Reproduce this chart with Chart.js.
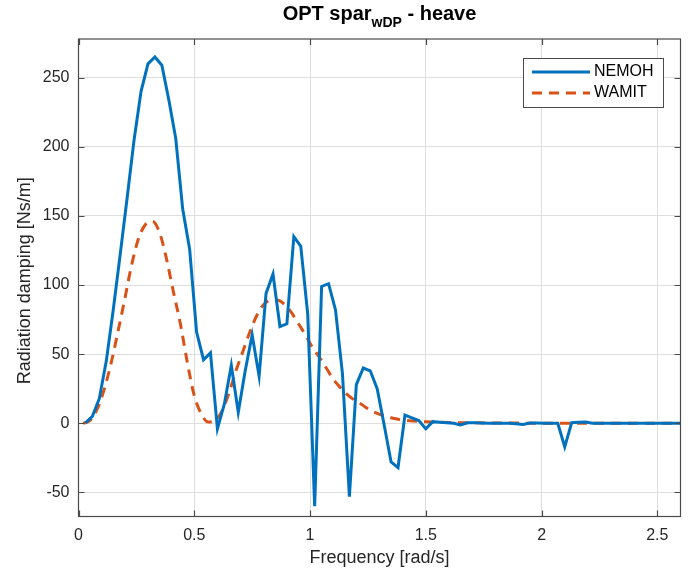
<!DOCTYPE html>
<html>
<head>
<meta charset="utf-8">
<script src="https://cdn.jsdelivr.net/npm/chart.js@4.4.1/dist/chart.umd.min.js"></script>
<style>
  html, body { margin: 0; padding: 0; background: #fff; }
  #wrap { width: 700px; height: 575px; }
</style>
</head>
<body>
<div id="wrap"><canvas id="chart"></canvas></div>
<script>
// NEMOH samples (rad/s)
const freqNemoh = [0.03, 0.06, 0.09, 0.12, 0.15, 0.18, 0.21, 0.24, 0.27, 0.30,
  0.33, 0.36, 0.39, 0.42, 0.45, 0.48, 0.51, 0.54, 0.57, 0.60,
  0.63, 0.66, 0.69, 0.72, 0.75, 0.78, 0.81, 0.84, 0.87, 0.90,
  0.93, 0.96, 0.99, 1.02, 1.05, 1.08, 1.11, 1.14, 1.17, 1.20,
  1.23, 1.26, 1.29, 1.32, 1.35, 1.38, 1.41, 1.44, 1.47, 1.50,
  1.53, 1.56, 1.59, 1.62, 1.65, 1.68, 1.71, 1.74, 1.77, 1.80,
  1.83, 1.86, 1.89, 1.92, 1.95, 1.98, 2.01, 2.04, 2.07, 2.10,
  2.13, 2.16, 2.19, 2.22, 2.25, 2.28, 2.31, 2.34, 2.37, 2.40,
  2.43, 2.46, 2.49, 2.52, 2.55, 2.58, 2.61];
const dampNemoh = [0.3, 5, 18, 45, 82, 122, 163, 205, 240, 260,
  265, 259, 234, 206, 155, 126, 66, 46, 51, -4,
  14, 42, 8, 38, 64, 34, 94, 108, 70, 72,
  135, 128, 79, -60, 99, 101, 82, 36, -53, 28,
  40, 38, 25, -1, -28, -32, 6, 4, 2, -4,
  1.2, 0.8, 0.4, 0, -1.2, 0.4, 0.5, 0.2, 0, 0,
  0.1, 0, -0.3, -0.8, 0.2, 0.3, 0.1, 0, 0, -17,
  0.5, 0.8, 1.0, 0, 0, 0, 0, 0, 0, 0,
  0, 0, 0, 0, 0, 0, 0];

// WAMIT samples
const freqWamit = [0.02, 0.05, 0.08, 0.11, 0.14, 0.17, 0.20, 0.23, 0.26, 0.29,
  0.32, 0.35, 0.38, 0.41, 0.44, 0.47, 0.50, 0.53, 0.56, 0.59,
  0.62, 0.65, 0.68, 0.71, 0.74, 0.77, 0.80, 0.83, 0.86, 0.89,
  0.92, 0.95, 0.98, 1.01, 1.04, 1.07, 1.10, 1.13, 1.16, 1.19,
  1.22, 1.25, 1.28, 1.31, 1.34, 1.37, 1.40, 1.45, 1.50, 1.60,
  1.70, 1.80, 1.90, 2.00, 2.10, 2.20, 2.30, 2.40, 2.50, 2.60];
const dampWamit = [0, 2, 10, 24, 43, 66, 90, 115, 134, 144,
  146, 138, 119, 95, 72, 44, 20, 7, 1, 2,
  9, 22, 38, 52, 66, 78, 86, 89, 89, 86,
  80, 72, 64, 55, 48, 40, 32, 26, 21, 17,
  14, 10.5, 8, 6, 4.5, 3.3, 2.4, 1.6, 1.1, 0.6,
  0.35, 0.2, 0.15, 0.1, 0.05, 0, 0, 0, 0, 0];

const xTicks = [0, 0.5, 1, 1.5, 2, 2.5];
const yTicks = [-50, 0, 50, 100, 150, 200, 250];
const seriesNames = ["NEMOH", "WAMIT"];

const BLUE = "#0072BD";
const ORANGE = "#D95319";
const TEXT = "#262626";
const FONT = "'Liberation Sans', Arial, Helvetica, sans-serif";

function pairs(xs, ys) {
  return xs.map(function (x, i) { return { x: x, y: ys[i] }; });
}

// MATLAB-style frame, inner ticks, legend and labels
const matlabDecor = {
  id: "matlabDecor",
  afterDraw: function (chart) {
    const ctx = chart.ctx;
    const a = chart.chartArea;
    const xs = chart.scales.x;
    const ys = chart.scales.y;
    ctx.save();

    // box
    ctx.strokeStyle = "#4a4a4a";
    ctx.lineWidth = 1.2;
    ctx.strokeRect(a.left, a.top, a.right - a.left, a.bottom - a.top);

    // inner ticks
    const tl = 6;
    ctx.beginPath();
    xTicks.forEach(function (v) {
      const px = Math.round(xs.getPixelForValue(v)) + 0.5;
      ctx.moveTo(px, a.bottom); ctx.lineTo(px, a.bottom - tl);
      ctx.moveTo(px, a.top); ctx.lineTo(px, a.top + tl);
    });
    yTicks.forEach(function (v) {
      const py = Math.round(ys.getPixelForValue(v)) + 0.5;
      ctx.moveTo(a.left, py); ctx.lineTo(a.left + tl, py);
      ctx.moveTo(a.right, py); ctx.lineTo(a.right - tl, py);
    });
    ctx.stroke();

    // legend
    const lx = 523, ly = 58, lw = 140, lh = 49;
    ctx.fillStyle = "#fff";
    ctx.fillRect(lx, ly, lw, lh);
    ctx.strokeStyle = "#4a4a4a";
    ctx.lineWidth = 1;
    ctx.strokeRect(lx + 0.5, ly + 0.5, lw, lh);

    ctx.lineWidth = 3;
    ctx.strokeStyle = BLUE;
    ctx.setLineDash([]);
    ctx.beginPath(); ctx.moveTo(532, 72); ctx.lineTo(590, 72); ctx.stroke();
    ctx.strokeStyle = ORANGE;
    ctx.setLineDash([10, 7]);
    ctx.beginPath(); ctx.moveTo(532, 93); ctx.lineTo(590, 93); ctx.stroke();
    ctx.setLineDash([]);

    ctx.fillStyle = "#000";
    ctx.font = "16px " + FONT;
    ctx.textAlign = "left";
    ctx.textBaseline = "middle";
    ctx.fillText(seriesNames[0], 594, 72);
    ctx.fillText(seriesNames[1], 594, 93);

    // axis titles
    ctx.fillStyle = TEXT;
    ctx.font = "18px " + FONT;
    ctx.textAlign = "center";
    ctx.fillText("Frequency [rad/s]", (a.left + a.right) / 2, 558);
    ctx.save();
    ctx.translate(25, (a.top + a.bottom) / 2 + 3);
    ctx.rotate(-Math.PI / 2);
    ctx.fillText("Radiation damping [Ns/m]", 0, 0);
    ctx.restore();

    // title with subscript
    const main1 = "OPT spar", sub = "wDP", main2 = " - heave";
    ctx.font = "bold 20px " + FONT;
    const w1 = ctx.measureText(main1).width;
    const w3 = ctx.measureText(main2).width;
    ctx.font = "bold 14px " + FONT;
    const w2 = ctx.measureText(sub).width;
    let tx = (a.left + a.right) / 2 - (w1 + w2 + w3) / 2;
    ctx.textAlign = "left";
    ctx.textBaseline = "alphabetic";
    ctx.fillStyle = "#000";
    ctx.font = "bold 20px " + FONT;
    ctx.fillText(main1, tx, 20);
    ctx.font = "bold 14px " + FONT;
    ctx.fillText(sub, tx + w1, 27);
    ctx.font = "bold 20px " + FONT;
    ctx.fillText(main2, tx + w1 + w2, 20);

    ctx.restore();
  }
};

const ctx = document.getElementById("chart").getContext("2d");
new Chart(ctx, {
  type: "line",
  data: {
    datasets: [
      {
        label: seriesNames[0],
        data: pairs(freqNemoh, dampNemoh),
        borderColor: BLUE,
        borderWidth: 3,
        pointRadius: 0,
        tension: 0,
        fill: false
      },
      {
        label: seriesNames[1],
        data: pairs(freqWamit, dampWamit),
        borderColor: ORANGE,
        borderWidth: 3,
        borderDash: [10, 7],
        pointRadius: 0,
        cubicInterpolationMode: "monotone",
        fill: false
      }
    ]
  },
  options: {
    responsive: true,
    maintainAspectRatio: false,
    animation: false,
    layout: { padding: { left: 0, top: 39, right: 19.5, bottom: 0 } },
    plugins: {
      legend: { display: false },
      title: { display: false },
      tooltip: { enabled: false }
    },
    scales: {
      x: {
        type: "linear",
        min: 0,
        max: 2.6,
        afterBuildTicks: function (s) { s.ticks = xTicks.map(function (v) { return { value: v }; }); },
        afterFit: function (s) { s.height = 58.5; },
        grid: { color: "#dedede", drawTicks: false },
        border: { display: false },
        ticks: {
          padding: 9,
          color: TEXT,
          font: { family: FONT, size: 16 },
          maxRotation: 0,
          callback: function (v) { return String(v); }
        }
      },
      y: {
        type: "linear",
        min: -67.4,
        max: 278,
        afterBuildTicks: function (s) { s.ticks = yTicks.map(function (v) { return { value: v }; }); },
        afterFit: function (s) { s.width = 78.5; },
        grid: { color: "#dedede", drawTicks: false },
        border: { display: false },
        ticks: {
          padding: 9,
          color: TEXT,
          font: { family: FONT, size: 16 },
          callback: function (v) { return String(v); }
        }
      }
    }
  },
  plugins: [matlabDecor]
});
</script>
</body>
</html>
